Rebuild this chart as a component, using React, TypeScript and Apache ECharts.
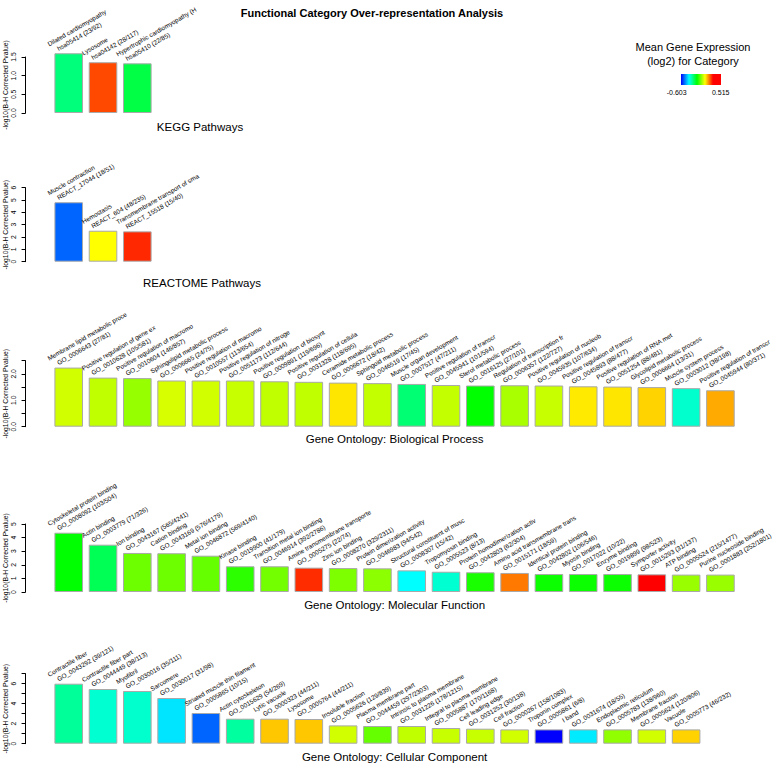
import React, { useEffect, useRef } from "react";
import * as echarts from "echarts";

const FONT = "'Liberation Sans', Arial, Helvetica, sans-serif";

const EXPR_MIN = -0.603;
const EXPR_MAX = 0.515;

// KEGG
const keggNames = ["Dilated cardiomyopathy", "Lysosome", "Hypertrophic cardiomyopathy (H"];
const keggIds = ["hsa05414 (23/92)", "hsa04142 (28/117)", "hsa05410 (22/85)"];
const keggValues = [1.6, 1.36, 1.33];
const keggExpr = [-0.263, 0.227, -0.216];

// REACTOME
const reactNames = ["Muscle contraction", "Hemostasis", "Transmembrane transport of sma"];
const reactIds = ["REACT_17044 (18/51)", "REACT_604 (48/235)", "REACT_15518 (15/40)"];
const reactValues = [4.82, 2.51, 2.46];
const reactExpr = [-0.514, 0.068, 0.256];

// GO Biological Process
const bpNames = [
  "Membrane lipid metabolic proce", "Positive regulation of gene ex", "Positive regulation of macromo",
  "Sphingolipid metabolic process", "Positive regulation of macromo", "Positive regulation of nitroge",
  "Positive regulation of biosynt", "Positive regulation of cellula", "Ceramide metabolic process",
  "Sphingoid metabolic process", "Muscle organ development", "Positive regulation of transcr",
  "Sterol metabolic process", "Regulation of transcription fr", "Positive regulation of nucleob",
  "Positive regulation of transcr", "Positive regulation of RNA met", "Glycolipid metabolic process",
  "Muscle system process", "Positive regulation of transcr",
];
const bpIds = [
  "GO_0006643 (27/81)", "GO_0010628 (105/581)", "GO_0010604 (146/857)", "GO_0006665 (24/75)",
  "GO_0010557 (113/654)", "GO_0051173 (112/644)", "GO_0009891 (119/696)", "GO_0031328 (118/695)",
  "GO_0006672 (18/42)", "GO_0046519 (17/45)", "GO_0007517 (47/211)", "GO_0045941 (101/594)",
  "GO_0016125 (27/101)", "GO_0006357 (122/727)", "GO_0045935 (107/634)", "GO_0045893 (88/477)",
  "GO_0051254 (88/481)", "GO_0006664 (13/31)", "GO_0003012 (38/198)", "GO_0045944 (80/371)",
];
const bpValues = [2.24, 1.86, 1.84, 1.75, 1.75, 1.75, 1.72, 1.7, 1.67, 1.65, 1.62, 1.58, 1.56, 1.57, 1.56, 1.53, 1.52, 1.5, 1.46, 1.38];
const bpExpr = [0.028, 0.012, -0.024, 0.034, 0.028, 0.019, 0.012, 0.012, 0.09, 0.016, -0.256, 0.016, -0.156, -0.008, 0.019, 0.086, 0.09, 0.106, -0.335, 0.142];

// GO Molecular Function
const mfNames = [
  "Cytoskeletal protein binding", "Actin binding", "Ion binding", "Cation binding", "Metal ion binding",
  "Kinase binding", "Transition metal ion binding", "Amine transmembrane transporte", "Zinc ion binding",
  "Protein dimerization activity", "Structural constituent of musc", "Tropomyosin binding",
  "Protein homodimerization activ", "Amino acid transmembrane trans", "Identical protein binding",
  "Myosin binding", "Enzyme binding", "Symporter activity", "ATP binding", "Purine nucleoside binding",
];
const mfIds = [
  "GO_0008092 (103/504)", "GO_0003779 (71/326)", "GO_0043167 (565/4241)", "GO_0043169 (576/4179)",
  "GO_0046872 (569/4140)", "GO_0019900 (41/179)", "GO_0046914 (392/2786)", "GO_0005275 (22/74)",
  "GO_0008270 (329/2311)", "GO_0046983 (94/542)", "GO_0008307 (15/42)", "GO_0005523 (8/13)",
  "GO_0042803 (62/304)", "GO_0015171 (18/59)", "GO_0042802 (106/546)", "GO_0017022 (10/22)",
  "GO_0019899 (98/523)", "GO_0015293 (31/137)", "GO_0005524 (215/1477)", "GO_0001883 (252/1801)",
];
const mfValues = [4.36, 3.48, 2.87, 2.85, 2.67, 1.89, 1.89, 1.79, 1.76, 1.74, 1.59, 1.49, 1.45, 1.4, 1.32, 1.32, 1.32, 1.3, 1.28, 1.28];
const mfExpr = [-0.156, -0.23, -0.06, -0.06, -0.066, -0.118, -0.055, 0.253, -0.046, -0.033, -0.379, -0.339, -0.133, 0.186, -0.145, -0.145, -0.145, 0.291, -0.022, -0.022];

// GO Cellular Component
const ccNames = [
  "Contractile fiber", "Contractile fiber part", "Myofibril", "Sarcomere", "Striated muscle thin filament",
  "Actin cytoskeleton", "Lytic vacuole", "Lysosome", "Insoluble fraction", "Plasma membrane part",
  "Intrinsic to plasma membrane", "Integral to plasma membrane", "Cell leading edge", "Cell fraction",
  "Troponin complex", "I band", "Endoplasmic reticulum", "Membrane fraction", "Vacuole",
];
const ccIds = [
  "GO_0043292 (39/121)", "GO_0044449 (38/113)", "GO_0030016 (35/111)", "GO_0030017 (31/98)",
  "GO_0005865 (10/15)", "GO_0015629 (54/269)", "GO_0000323 (44/211)", "GO_0005764 (44/211)",
  "GO_0005626 (129/839)", "GO_0044459 (297/2303)", "GO_0031226 (178/1215)", "GO_0005887 (170/1168)",
  "GO_0031252 (30/138)", "GO_0000267 (158/1083)", "GO_0005861 (6/8)", "GO_0031674 (18/55)",
  "GO_0005783 (138/960)", "GO_0005624 (120/806)", "GO_0005773 (46/232)",
];
const ccValues = [6.0, 5.47, 5.27, 4.57, 3.07, 2.5, 2.5, 2.47, 1.83, 1.77, 1.77, 1.57, 1.5, 1.43, 1.43, 1.43, 1.43, 1.43, 1.43];
const ccExpr = [-0.29, -0.339, -0.335, -0.402, -0.514, -0.294, 0.117, 0.117, 0.028, -0.066, 0.012, 0.019, 0.019, 0.028, -0.603, -0.397, -0.028, 0.028, 0.107];

const Y_TITLE = "-log10(B-H Corrected Pvalue)";

const PALETTE: [number, number[]][] = [
  [0, [0, 0, 255]],
  [0.2, [0, 255, 255]],
  [0.4, [0, 255, 0]],
  [0.6, [255, 255, 0]],
  [0.8, [255, 0, 0]],
  [1, [255, 0, 0]],
];

function exprColor(v: number): string {
  let t = (v - EXPR_MIN) / (EXPR_MAX - EXPR_MIN);
  t = Math.max(0, Math.min(1, t));
  for (let i = 0; i < PALETTE.length - 1; i++) {
    const [t0, c0] = PALETTE[i];
    const [t1, c1] = PALETTE[i + 1];
    if (t <= t1) {
      const f = t1 === t0 ? 0 : (t - t0) / (t1 - t0);
      const c = c0.map((x, k) => Math.round(x + (c1[k] - x) * f));
      return `rgb(${c[0]},${c[1]},${c[2]})`;
    }
  }
  return "rgb(255,0,0)";
}

const PITCH = 34.3;
const LEFT = 51.57;

const panels = [
  { names: keggNames, ids: keggIds, values: keggValues, expr: keggExpr, max: 1.5, interval: 0.5, labelStep: 0.5, dec: 1, top: 57, height: 56, title: "KEGG Pathways", tx: 200, ty: 127 },
  { names: reactNames, ids: reactIds, values: reactValues, expr: reactExpr, max: 6, interval: 1, labelStep: 1, dec: 0, top: 187.7, height: 74, title: "REACTOME Pathways", tx: 202, ty: 283 },
  { names: bpNames, ids: bpIds, values: bpValues, expr: bpExpr, max: 2.5, interval: 0.5, labelStep: 1, dec: 1, top: 360.7, height: 66, title: "Gene Ontology: Biological Process", tx: 394.6, ty: 439 },
  { names: mfNames, ids: mfIds, values: mfValues, expr: mfExpr, max: 5, interval: 1, labelStep: 1, dec: 0, top: 524, height: 68, title: "Gene Ontology: Molecular Function", tx: 394.6, ty: 604.5 },
  { names: ccNames, ids: ccIds, values: ccValues, expr: ccExpr, max: 7, interval: 1, labelStep: 2, dec: 0, top: 673.7, height: 70, title: "Gene Ontology: Cellular Component", tx: 394.6, ty: 756.5 },
];

export default function App() {
  const ref = useRef<HTMLDivElement>(null);
  useEffect(() => {
    if (!ref.current) return;
    const chart = echarts.init(ref.current, undefined, { renderer: "svg" });

    const grids = panels.map((p) => ({
      left: LEFT,
      top: p.top,
      width: p.names.length * PITCH,
      height: p.height,
      containLabel: false,
      outerBoundsMode: "none",
    }));
    const xAxes = panels.map((p, i) => ({
      type: "category",
      gridIndex: i,
      data: p.names.map((_, k) => String(k)),
      show: false,
    }));
    const yAxes = panels.map((p, i) => ({
      type: "value",
      gridIndex: i,
      min: 0,
      max: p.max,
      interval: p.interval,
      offset: 26,
      position: "left",
      axisLine: { show: true, lineStyle: { color: "#000", width: 1 } },
      axisTick: { show: true, length: 4, lineStyle: { color: "#000", width: 1 } },
      splitLine: { show: false },
      axisLabel: {
        rotate: 90,
        fontSize: 6.8,
        color: "#000",
        fontFamily: FONT,
        margin: 9,
        formatter: (v: number) => {
          const r = v / p.labelStep;
          return Math.abs(r - Math.round(r)) < 1e-6 ? v.toFixed(p.dec) : "";
        },
      },
    }));
    const series = panels.map((p, i) => ({
      type: "bar",
      xAxisIndex: i,
      yAxisIndex: i,
      barWidth: 28.6,
      clip: false,
      data: p.values.map((v, k) => ({
        value: v,
        itemStyle: { color: exprColor(p.expr[k]), borderColor: "#a9a9a9", borderWidth: 1 },
      })),
      label: {
        show: true,
        position: [0, 2.3],
        rotate: 30,
        align: "left",
        verticalAlign: "bottom",
        fontFamily: FONT,
        fontSize: 6.4,
        color: "#000",
        formatter: (params: any) => `{a|${p.names[params.dataIndex]}}\n{b|${p.ids[params.dataIndex]}}`,
        rich: {
          a: { fontSize: 6.4, lineHeight: 8.65, color: "#000", fontFamily: FONT },
          b: { fontSize: 6.4, lineHeight: 8.65, color: "#000", fontFamily: FONT, padding: [0, 0, 0, 6] },
        },
      },
    }));

    const graphics: any[] = [];
    panels.forEach((p) => {
      graphics.push({
        type: "text",
        x: p.tx,
        y: p.ty,
        style: { text: p.title, fontSize: 11.5, fontFamily: FONT, fill: "#000", textAlign: "center", textVerticalAlign: "middle" },
      });
      graphics.push({
        type: "text",
        x: 5,
        y: p.top + p.height / 2,
        rotation: Math.PI / 2,
        style: { text: Y_TITLE, fontSize: 6.8, fontFamily: FONT, fill: "#000", textAlign: "center", textVerticalAlign: "middle" },
      });
    });
    graphics.push(
      {
        type: "text",
        x: 372,
        y: 13,
        style: { text: "Functional Category Over-representation Analysis", fontSize: 11, fontWeight: "bold", fontFamily: FONT, fill: "#000", textAlign: "center", textVerticalAlign: "middle" },
      },
      {
        type: "text",
        x: 693,
        y: 47,
        style: { text: "Mean Gene Expression", fontSize: 11, fontFamily: FONT, fill: "#000", textAlign: "center", textVerticalAlign: "middle" },
      },
      {
        type: "text",
        x: 693,
        y: 61,
        style: { text: "(log2) for Category", fontSize: 11, fontFamily: FONT, fill: "#000", textAlign: "center", textVerticalAlign: "middle" },
      },
      {
        type: "rect",
        shape: { x: 681, y: 74, width: 40, height: 11 },
        style: {
          fill: {
            type: "linear",
            x: 0, y: 0, x2: 1, y2: 0,
            colorStops: PALETTE.map(([t, c]) => ({ offset: t, color: `rgb(${c[0]},${c[1]},${c[2]})` })),
          },
        },
      },
      {
        type: "text",
        x: 676.7,
        y: 92,
        style: { text: EXPR_MIN.toFixed(3), fontSize: 7, fontFamily: FONT, fill: "#000", textAlign: "center", textVerticalAlign: "middle" },
      },
      {
        type: "text",
        x: 720.7,
        y: 92,
        style: { text: EXPR_MAX.toFixed(3), fontSize: 7, fontFamily: FONT, fill: "#000", textAlign: "center", textVerticalAlign: "middle" },
      }
    );

    chart.setOption({
      animation: false,
      backgroundColor: "#ffffff",
      grid: grids,
      xAxis: xAxes,
      yAxis: yAxes,
      series,
      graphic: graphics,
    } as any);
    return () => chart.dispose();
  }, []);
  return <div ref={ref} style={{ position: "fixed", left: 0, top: 0, width: 777, height: 763 }} />;
}
